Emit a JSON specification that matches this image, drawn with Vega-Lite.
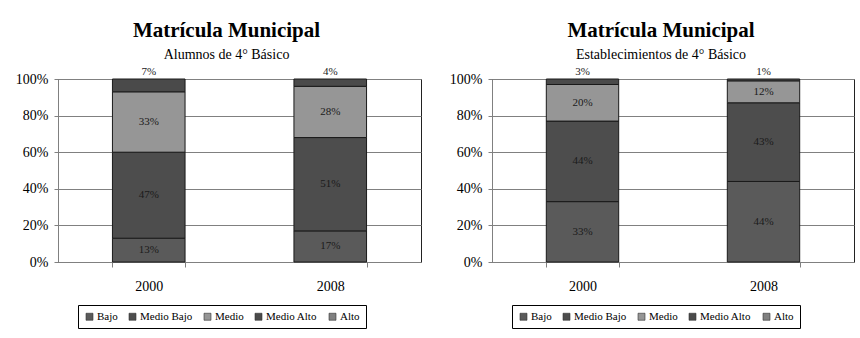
{
  "$schema": "https://vega.github.io/schema/vega-lite/v6.json",
  "background": "white",
  "padding": {"left": 5, "top": 19, "right": 5, "bottom": 5},
  "spacing": 17,
  "config": {
    "font": "Liberation Serif",
    "view": {"stroke": "#222", "strokeWidth": 1},
    "axis": {
      "labelFont": "Liberation Serif",
      "labelColor": "#000",
      "labelFontSize": 14,
      "domainColor": "#808080",
      "tickColor": "#808080",
      "gridColor": "#808080",
      "labelOverlap": false,
      "title": null
    },
    "legend": {
      "labelFont": "Liberation Serif",
      "labelFontSize": 11,
      "labelColor": "#000",
      "symbolType": "square",
      "symbolSize": 49,
      "symbolStrokeColor": "#333",
      "symbolStrokeWidth": 0.6,
      "strokeColor": "#000",
      "padding": 6,
      "columnPadding": 9,
      "labelOffset": 2,
      "title": null,
      "orient": "none",
      "direction": "horizontal",
      "legendX": 20,
      "legendY": 226
    },
    "title": {
      "font": "Liberation Serif",
      "fontSize": 21,
      "fontWeight": "bold",
      "color": "#000",
      "subtitleFont": "Liberation Serif",
      "subtitleFontSize": 14,
      "subtitleColor": "#000",
      "subtitlePadding": 7,
      "anchor": "middle",
      "offset": 0
    }
  },
  "datasets": {
    "alumnos": [
      {"year": "2000", "nivel": "Bajo", "pct": 13},
      {"year": "2000", "nivel": "Medio Bajo", "pct": 47},
      {"year": "2000", "nivel": "Medio", "pct": 33},
      {"year": "2000", "nivel": "Medio Alto", "pct": 7},
      {"year": "2008", "nivel": "Bajo", "pct": 17},
      {"year": "2008", "nivel": "Medio Bajo", "pct": 51},
      {"year": "2008", "nivel": "Medio", "pct": 28},
      {"year": "2008", "nivel": "Medio Alto", "pct": 4}
    ],
    "estab": [
      {"year": "2000", "nivel": "Bajo", "pct": 33},
      {"year": "2000", "nivel": "Medio Bajo", "pct": 44},
      {"year": "2000", "nivel": "Medio", "pct": 20},
      {"year": "2000", "nivel": "Medio Alto", "pct": 3},
      {"year": "2008", "nivel": "Bajo", "pct": 44},
      {"year": "2008", "nivel": "Medio Bajo", "pct": 43},
      {"year": "2008", "nivel": "Medio", "pct": 12},
      {"year": "2008", "nivel": "Medio Alto", "pct": 1}
    ]
  },
  "resolve": {
    "scale": {"color": "independent", "x": "independent", "y": "independent"},
    "legend": {"color": "independent"}
  },
  "hconcat": [
    {
      "width": 363,
      "height": 183,
      "title": {"text": "Matrícula Municipal", "subtitle": "Alumnos de 4° Básico", "dx": -13},
      "data": {"name": "alumnos"},
      "transform": [
        {"calculate": "indexof(['Bajo','Medio Bajo','Medio','Medio Alto','Alto'], datum.nivel)", "as": "ord"},
        {"stack": "pct", "groupby": ["year"], "sort": [{"field": "ord", "order": "ascending"}], "as": ["y0", "y1"]},
        {"calculate": "(datum.y0 + datum.y1) / 2", "as": "ym"},
        {"calculate": "datum.pct + '%'", "as": "lab"}
      ],
      "layer": [
        {
          "mark": {"type": "bar", "stroke": "#1a1a1a", "strokeWidth": 1},
          "encoding": {
            "x": {"field": "year", "type": "nominal", "scale": {"paddingInner": 0.6, "paddingOuter": 0.3},
                  "axis": {"labelAngle": 0, "tickBand": "extent", "tickSize": 5, "labelPadding": 12, "grid": false}},
            "y": {"field": "y0", "type": "quantitative", "scale": {"domain": [0, 100], "nice": false},
                  "axis": {"values": [0, 20, 40, 60, 80, 100], "tickCount": 20, "labelOverlap": false, "labelExpr": "datum.value + '%'", "tickSize": 4, "labelPadding": 6, "minExtent": 52, "maxExtent": 52, "grid": true}},
            "y2": {"field": "y1"},
            "color": {"field": "nivel", "type": "nominal",
                      "scale": {"domain": ["Bajo", "Medio Bajo", "Medio", "Medio Alto", "Alto"], "range": ["#5a5a5a", "#4d4d4d", "#969696", "#4a4a4a", "#808080"]}}
          }
        },
        {
          "transform": [{"filter": "datum.nivel != 'Medio Alto'"}],
          "mark": {"type": "text", "fontSize": 11, "color": "#1a1a1a", "font": "Liberation Serif"},
          "encoding": {
            "x": {"field": "year", "type": "nominal"},
            "y": {"field": "ym", "type": "quantitative"},
            "text": {"field": "lab"}
          }
        },
        {
          "transform": [{"filter": "datum.nivel == 'Medio Alto'"}],
          "mark": {"type": "text", "fontSize": 11, "color": "#1a1a1a", "font": "Liberation Serif", "dy": -7},
          "encoding": {
            "x": {"field": "year", "type": "nominal"},
            "y": {"field": "y1", "type": "quantitative"},
            "text": {"field": "lab"}
          }
        }
      ]
    },
    {
      "width": 362,
      "height": 183,
      "title": {"text": "Matrícula Municipal", "subtitle": "Establecimientos de 4° Básico", "dx": -12},
      "data": {"name": "estab"},
      "transform": [
        {"calculate": "indexof(['Bajo','Medio Bajo','Medio','Medio Alto','Alto'], datum.nivel)", "as": "ord"},
        {"stack": "pct", "groupby": ["year"], "sort": [{"field": "ord", "order": "ascending"}], "as": ["y0", "y1"]},
        {"calculate": "(datum.y0 + datum.y1) / 2", "as": "ym"},
        {"calculate": "datum.pct + '%'", "as": "lab"}
      ],
      "layer": [
        {
          "mark": {"type": "bar", "stroke": "#1a1a1a", "strokeWidth": 1},
          "encoding": {
            "x": {"field": "year", "type": "nominal", "scale": {"paddingInner": 0.6, "paddingOuter": 0.3},
                  "axis": {"labelAngle": 0, "tickBand": "extent", "tickSize": 5, "labelPadding": 12, "grid": false}},
            "y": {"field": "y0", "type": "quantitative", "scale": {"domain": [0, 100], "nice": false},
                  "axis": {"values": [0, 20, 40, 60, 80, 100], "tickCount": 20, "labelOverlap": false, "labelExpr": "datum.value + '%'", "tickSize": 4, "labelPadding": 6, "minExtent": 52, "maxExtent": 52, "grid": true}},
            "y2": {"field": "y1"},
            "color": {"field": "nivel", "type": "nominal",
                      "scale": {"domain": ["Bajo", "Medio Bajo", "Medio", "Medio Alto", "Alto"], "range": ["#5a5a5a", "#4d4d4d", "#969696", "#4a4a4a", "#808080"]}}
          }
        },
        {
          "transform": [{"filter": "datum.nivel != 'Medio Alto'"}],
          "mark": {"type": "text", "fontSize": 11, "color": "#1a1a1a", "font": "Liberation Serif"},
          "encoding": {
            "x": {"field": "year", "type": "nominal"},
            "y": {"field": "ym", "type": "quantitative"},
            "text": {"field": "lab"}
          }
        },
        {
          "transform": [{"filter": "datum.nivel == 'Medio Alto'"}],
          "mark": {"type": "text", "fontSize": 11, "color": "#1a1a1a", "font": "Liberation Serif", "dy": -7},
          "encoding": {
            "x": {"field": "year", "type": "nominal"},
            "y": {"field": "y1", "type": "quantitative"},
            "text": {"field": "lab"}
          }
        }
      ]
    }
  ]
}
